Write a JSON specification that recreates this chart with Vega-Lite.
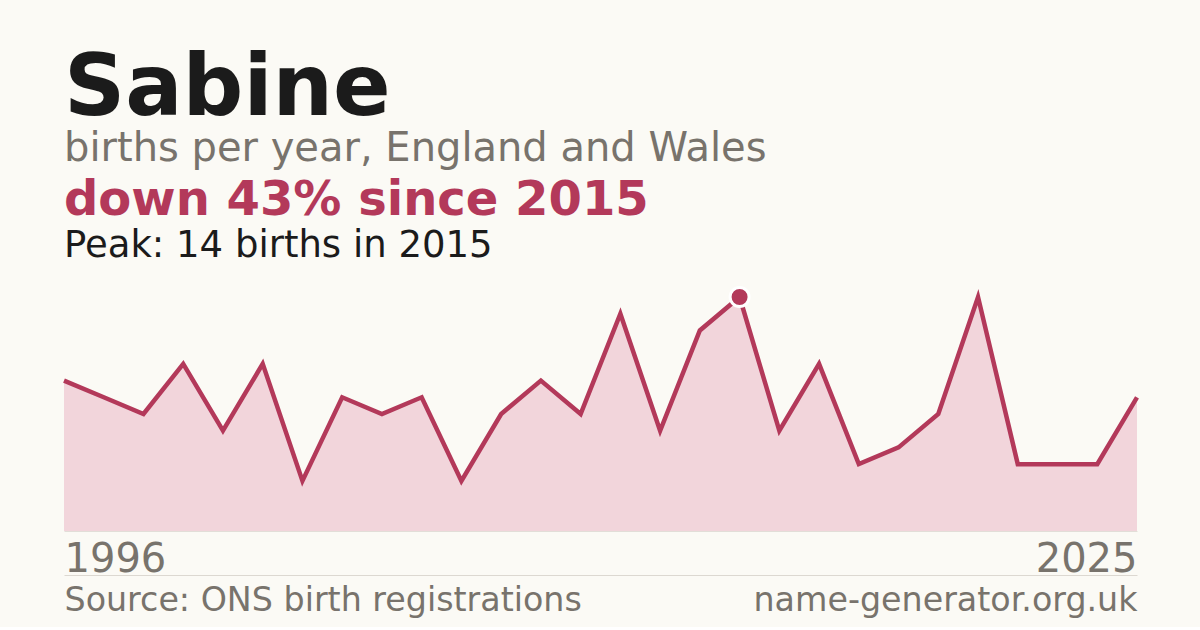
{
  "$schema": "https://vega.github.io/schema/vega-lite/v6.json",
  "background": "#fbfaf5",
  "padding": {"left": 55, "top": 46, "right": 63, "bottom": 10},
  "config": {
    "view": {"stroke": null},
    "font": "DejaVu Sans"
  },
  "title": {
    "text": "Sabine",
    "subtitle": "births per year, England and Wales",
    "anchor": "start",
    "frame": "group",
    "font": "DejaVu Sans",
    "fontSize": 85,
    "fontWeight": "bold",
    "color": "#1b1b1b",
    "subtitleFont": "DejaVu Sans",
    "subtitleFontSize": 40,
    "subtitleColor": "#78736c",
    "subtitlePadding": -4,
    "offset": 7
  },
  "datasets": {
    "births": [
      {"year": 1996, "births": 9},
      {"year": 1997, "births": 8},
      {"year": 1998, "births": 7},
      {"year": 1999, "births": 10},
      {"year": 2000, "births": 6},
      {"year": 2001, "births": 10},
      {"year": 2003, "births": 3},
      {"year": 2004, "births": 8},
      {"year": 2005, "births": 7},
      {"year": 2006, "births": 8},
      {"year": 2007, "births": 3},
      {"year": 2008, "births": 7},
      {"year": 2010, "births": 9},
      {"year": 2011, "births": 7},
      {"year": 2012, "births": 13},
      {"year": 2013, "births": 6},
      {"year": 2014, "births": 12},
      {"year": 2015, "births": 14},
      {"year": 2016, "births": 6},
      {"year": 2017, "births": 10},
      {"year": 2018, "births": 4},
      {"year": 2019, "births": 5},
      {"year": 2020, "births": 7},
      {"year": 2021, "births": 14},
      {"year": 2022, "births": 4},
      {"year": 2023, "births": 4},
      {"year": 2024, "births": 4},
      {"year": 2025, "births": 8}
    ],
    "footer": [
      {"label": "Source: ONS birth registrations"},
      {"label": "name-generator.org.uk"}
    ]
  },
  "vconcat": [
    {
      "width": 1073,
      "height": 234,
      "title": {
        "text": "down 43% since 2015",
        "subtitle": "Peak: 14 births in 2015",
        "anchor": "start",
        "frame": "group",
        "font": "DejaVu Sans",
        "fontSize": 48,
        "fontWeight": "bold",
        "color": "#b3395a",
        "subtitleFont": "DejaVu Sans",
        "subtitleFontSize": 37,
        "subtitleColor": "#1b1b1b",
        "subtitlePadding": 3,
        "offset": 18
      },
      "layer": [
        {
          "data": {"name": "births"},
          "layer": [
            {
              "mark": {"type": "area", "color": "#f2d5db"}
            },
            {
              "mark": {"type": "line", "color": "#b3395a", "strokeWidth": 4.5}
            },
            {
              "transform": [{"filter": "datum.year == 2015"}],
              "mark": {
                "type": "point",
                "filled": true,
                "size": 360,
                "color": "#b3395a",
                "stroke": "#ffffff",
                "strokeWidth": 3,
                "opacity": 1
              }
            }
          ],
          "encoding": {
            "x": {
              "field": "year",
              "type": "ordinal",
              "scale": {"type": "point", "padding": 0},
              "axis": {
                "values": [1996, 2025],
                "title": null,
                "ticks": false,
                "domain": true,
                "domainColor": "#e2ded8",
                "domainWidth": 1,
                "labelFlush": true,
                "labelAngle": 0,
                "labelFont": "DejaVu Sans",
                "labelFontSize": 40,
                "labelColor": "#78736c",
                "labelBaseline": "alphabetic",
                "labelPadding": 40
              }
            },
            "y": {
              "field": "births",
              "type": "quantitative",
              "scale": {"domain": [0, 14], "nice": false},
              "axis": null
            }
          }
        },
        {
          "data": {"name": "footer"},
          "mark": {"type": "point", "opacity": 0},
          "encoding": {
            "x": {
              "field": "label",
              "type": "nominal",
              "sort": null,
              "scale": {"type": "point", "padding": 0},
              "axis": {
                "orient": "bottom",
                "offset": 44,
                "title": null,
                "ticks": false,
                "domain": true,
                "domainColor": "#dcd8d1",
                "domainWidth": 1,
                "labelFlush": true,
                "labelLimit": 0,
                "labelAngle": 0,
                "labelFont": "DejaVu Sans",
                "labelFontSize": 33.3,
                "labelColor": "#78736c",
                "labelBaseline": "alphabetic",
                "labelPadding": 35
              }
            }
          }
        }
      ],
      "resolve": {"scale": {"x": "independent"}, "axis": {"x": "independent"}}
    }
  ]
}
